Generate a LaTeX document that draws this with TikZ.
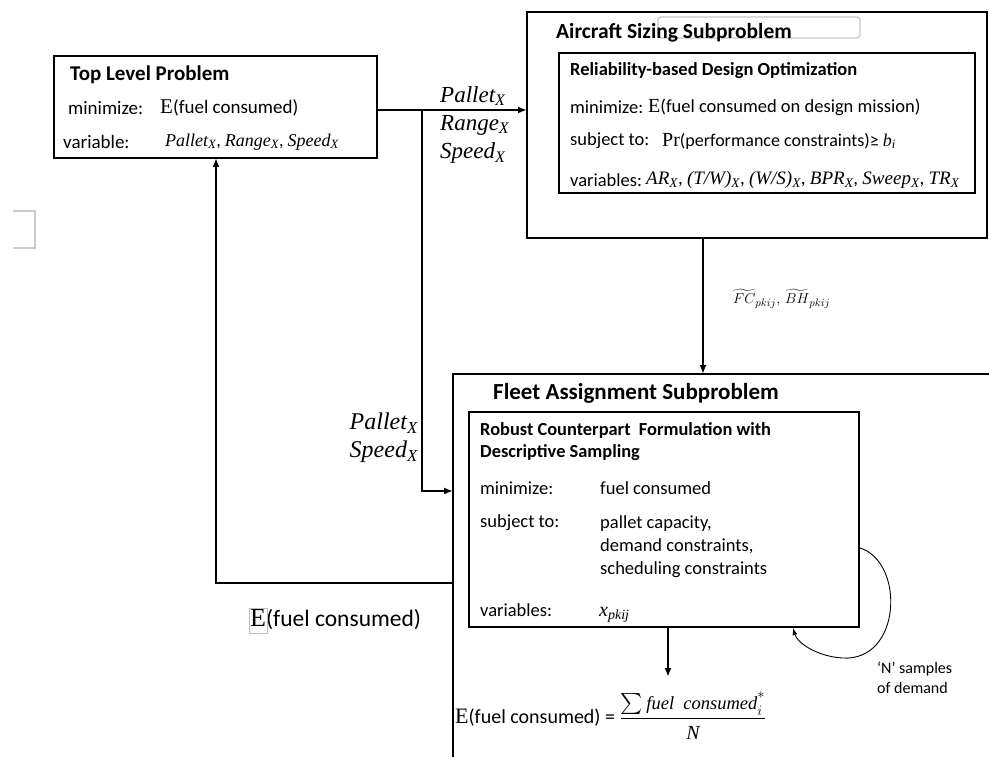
\documentclass[tikz,border=0pt]{standalone}
\usepackage{amsmath,amssymb}
\usepackage{fontspec}
\setmainfont{Carlito}
\newfontfamily\tnr{Liberation Serif}
\usepackage{xcolor}
\usepackage{tikz}
\usetikzlibrary{arrows.meta,positioning,calc}
\newcommand{\fsz}[1]{\fontsize{#1}{#1}\selectfont}
\newcommand{\vsub}[2]{{\tnr\itshape #1\textsubscript{#2}}}

\begin{document}
\begin{tikzpicture}[x=1pt, y=-1pt,
  box/.style={draw, line width=2.4pt, inner sep=0pt, outer sep=0pt, anchor=north west},
  txt/.style={anchor=west, inner sep=0pt, font=\fsz{18.5}},
  hd/.style={anchor=west, inner sep=0pt, font=\fsz{21}\bfseries},
  var/.style={anchor=west, inner sep=0pt, font=\fsz{23}},
  arrow/.style={-{Latex[length=9pt,width=7pt]}, line width=2pt},
  faint/.style={draw=black!22, line width=1.2pt}
]
\useasboundingbox (0,0) rectangle (989,757);
\clip (0,0) rectangle (989,757);

% boxes
\node[box, minimum width=323pt, minimum height=102pt] (top) at (54,56) {};
\node[box, minimum width=460pt, minimum height=226pt] (air) at (527,12) {};
\node[box, minimum width=416pt, minimum height=140pt] (rbdo) at (559,53) {};
\node[box, minimum width=560pt, minimum height=420pt] (fleet) at (453,374) {};
\node[box, minimum width=390pt, minimum height=215pt] (rc) at (469,412) {};

% artefacts
\draw[faint, rounded corners=3pt] (658,17) rectangle (860,38);
\draw[black!20, line width=1.6pt] (13,211) -- (35,211) -- (35,248) -- (13,248);

% top level problem
\node[hd] (toptitle) at (70,75) {Top Level Problem};
\node[txt, font=\fsz{19}] (topmin) at (68,108) {minimize:};
\node[txt, font=\fsz{19}] (topobj) at (160,108) {{\tnr\fsz{21}E}(fuel consumed)};
\node[txt, font=\fsz{19}] (topvar) at (63,142) {variable:};
\node[txt, font=\fsz{18}] (topvars) at (165,142) {\vsub{Pallet}{X}, \vsub{Range}{X}, \vsub{Speed}{X}};

% aircraft sizing
\node[hd, font=\fsz{21.5}\bfseries] (airtitle) at (556,33) {Aircraft Sizing Subproblem};
\node[hd, font=\fsz{18.5}\bfseries] (rbdotitle) at (570,71) {Reliability-based Design Optimization};
\node[txt] (rbdomin) at (570,107) {minimize:};
\node[txt] (rbdoobj) at (648,107) {{\tnr\fsz{20}E}(fuel consumed on design mission)};
\node[txt] (rbdost) at (570,141) {subject to:};
\node[txt, font=\fsz{18}] (rbdocon) at (662,141) {{\tnr\fsz{20}Pr}(performance constraints)≥ \vsub{b}{i}};
\node[txt] (rbdovar) at (570,180) {variables:};
\node[txt, font=\fsz{19}] (rbdovars) at (646,180) {\vsub{AR}{X}, \vsub{(T/W)}{X}, \vsub{(W/S)}{X}, \vsub{BPR}{X}, \vsub{Sweep}{X}, \vsub{TR}{X}};

% fleet assignment
\node[hd, font=\fsz{23}\bfseries] (fleettitle) at (493,393) {Fleet Assignment Subproblem};
\node[hd, font=\fsz{18.4}\bfseries] (rctitle) at (480,430) {Robust Counterpart\ \ Formulation with};
\node[hd, font=\fsz{18.4}\bfseries] (rctitleb) at (480,453) {Descriptive Sampling};
\node[txt] (rcmin) at (480,488) {minimize:};
\node[txt] (rcobj) at (600,488) {fuel consumed};
\node[txt] (rcst) at (480,523) {subject to:};
\node[txt, align=left, anchor=north west, font=\fontsize{18.5}{23}\selectfont] (rccon) at (600,515) {pallet capacity,\\demand constraints,\\scheduling constraints};
\node[txt] (rcvar) at (480,610) {variables:};
\node[txt, anchor=base west, font=\fsz{20}] (rcvars) at (599,616) {\vsub{x}{pkij}};

% links
\coordinate (br) at (422,110);
\coordinate (fin) at (453,491);
\coordinate (fout) at (453,583);
\coordinate (dn) at (703,238);
\coordinate (res) at (668,627);
\coordinate (loopa) at (860,548);
\coordinate (loopb) at (793,628);

\draw[arrow] (top.east |- br) -- (air.west |- br);
\draw[arrow] (br) |- (fin);
\draw[arrow] (dn) -- (dn |- fleet.north);
\draw[arrow] (fout) -| (top.south -| 216,0);
\draw[arrow] (res) -- ++(0,50) coordinate (restip);
\draw[-{Latex[length=7pt,width=5pt]}, line width=0.9pt] (loopa) .. controls (905,562) and (902,662) .. (842,658) .. controls (815,656) and (797,642) .. (loopb);

% labels
\node[var] (lpallet) at (440,96) {\vsub{Pallet}{X}};
\node[var] (lrange) at (440,125) {\vsub{Range}{X}};
\node[var] (lspeed) at (440,153) {\vsub{Speed}{X}};
\node[var, anchor=east, font=\fsz{24}] (lpallet2) at (418,423) {\vsub{Pallet}{X}};
\node[var, anchor=east, font=\fsz{24}] (lspeed2) at (418,452) {\vsub{Speed}{X}};
\node[anchor=west, inner sep=0pt, font=\fsz{15}] (lfc) at (733,299) {$\widetilde{FC}_{pkij},\,\widetilde{BH}_{pkij}$};
\node[anchor=west, inner sep=0pt, font=\fsz{23.5}] (lexp) at (250,620) {{\tnr\fsz{26}E}(fuel consumed)};
\draw[black!25, line width=0.8pt] ($(lexp.west)+(-1,-12)$) rectangle ($(lexp.west)+(17,13)$);
\node[anchor=north west, inner sep=0pt, align=left, font=\fontsize{16}{20}\selectfont] (lsamp) at (877,662) {`N' samples\\of demand};
\node[anchor=west, inner sep=0pt, font=\fsz{20}] (lform) at (455,716) {{\tnr\fsz{22}E}(fuel consumed) = $\dfrac{\text{\fsz{21}$\sum$\,\tnr\itshape\fsz{18.5}fuel\ \ consumed}^{*}_{i}\rule[-6pt]{0pt}{6pt}}{\rule{0pt}{19pt}\text{\tnr\itshape\fsz{20}N}}$};
\end{tikzpicture}
\end{document}
